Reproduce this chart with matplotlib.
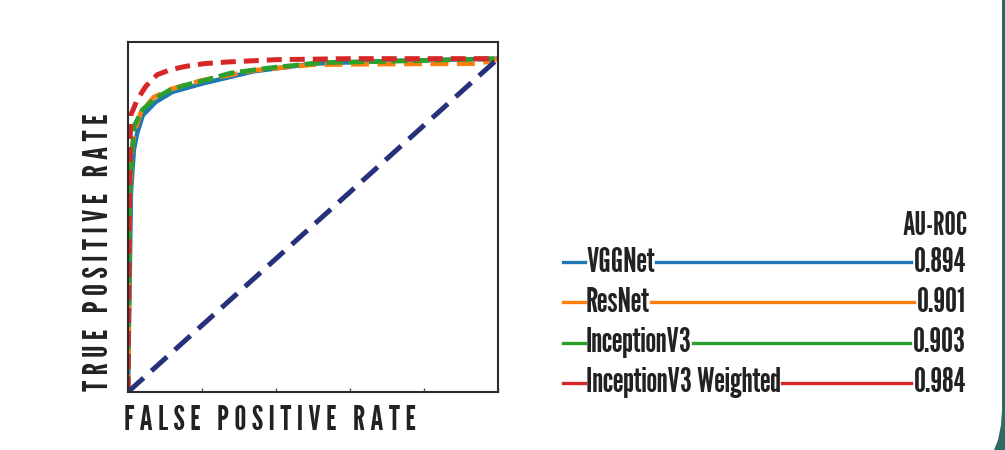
import matplotlib
matplotlib.use("Agg")
import matplotlib.pyplot as plt
from matplotlib import font_manager
from matplotlib.patches import Polygon

# ROC curves read for each model (false positive rate, true positive rate)
vgg_fpr = [0, 0.008, 0.016, 0.025, 0.04, 0.075, 0.12, 0.2, 0.34, 0.5, 0.7, 1.0]
vgg_tpr = [0, 0.60, 0.727, 0.777, 0.83, 0.87, 0.90, 0.925, 0.962, 0.985, 0.993, 1.0]

resnet_fpr = [0, 0.005, 0.012, 0.02, 0.035, 0.07, 0.12, 0.2, 0.34, 0.5, 0.7, 0.95, 1.0]
resnet_tpr = [0, 0.60, 0.74, 0.79, 0.84, 0.885, 0.91, 0.935, 0.965, 0.982, 0.984, 0.985, 1.0]

incep_fpr = [0, 0.005, 0.016, 0.039, 0.075, 0.115, 0.16, 0.214, 0.278, 0.38, 0.52, 0.7, 1.0]
incep_tpr = [0, 0.60, 0.797, 0.847, 0.882, 0.907, 0.922, 0.937, 0.957, 0.972, 0.988, 0.992, 1.0]

weighted_fpr = [0, 0.004, 0.007, 0.012, 0.025, 0.048, 0.079, 0.115, 0.156, 0.205, 0.268, 0.4, 0.6, 1.0]
weighted_tpr = [0, 0.60, 0.83, 0.842, 0.877, 0.917, 0.952, 0.967, 0.977, 0.985, 0.99, 0.997, 1.0, 1.0]

model_names = ["VGGNet", "ResNet", "InceptionV3", "InceptionV3 Weighted"]
auc_values = [0.894, 0.901, 0.903, 0.984]
colors = ["#1f77b4", "#ff7f0e", "#2ca02c", "#d62728"]

# condensed display face, first one that is installed
names = {f.name for f in font_manager.fontManager.ttflist}
family = next(n for n in ["League Gothic", "Oswald", "Antonio", "Fjalla One",
                          "Barlow Condensed", "DejaVu Sans"] if n in names)
FONT = dict(family=[family, "DejaVu Sans"])
INK = "#222222"

fig = plt.figure(figsize=(10.05, 4.5), dpi=100)

# overlay in pixel units for the legend block and the frame edge
ov = fig.add_axes([0, 0, 1, 1])
ov.set_xlim(0, 1005)
ov.set_ylim(450, 0)
ov.axis("off")

ax = fig.add_axes([128 / 1005, 58 / 450, 370 / 1005, 350 / 450])

ax.plot(vgg_fpr, vgg_tpr, color=colors[0], lw=3.2, solid_capstyle="round")
ax.plot(resnet_fpr, resnet_tpr, color=colors[1], lw=3.4, dashes=(3.8, 1.8))
ax.plot(incep_fpr, incep_tpr, color=colors[2], lw=3.4, dashes=(3.4, 1.2))
ax.plot(weighted_fpr, weighted_tpr, color=colors[3], lw=3.6, dashes=(3.0, 1.6))
ax.plot([0, 1], [0, 1], color="#27307a", lw=3.6, dashes=(4.2, 2.1))

ax.set_xlim(0, 1)
ax.set_ylim(0, 1.05)
ax.set_xticks([0, 0.2, 0.4, 0.6, 0.8, 1.0])
ax.set_yticks([])
ax.tick_params(axis="x", direction="in", length=3, width=1, color="#555555", labelbottom=False)
for s in ax.spines.values():
    s.set_linewidth(1.5)
    s.set_color("#2b2b2b")

ov.text(124, 420, "F A L S E   P O S I T I V E   R A T E", fontsize=24.5,
        color=INK, ha="left", va="center", **FONT)
ov.text(99, 252, "T R U E   P O S I T I V E   R A T E", fontsize=24.5,
        color=INK, ha="center", va="center", rotation=90, **FONT)

# legend block: short lead line, name, long line to the AU-ROC value
ov.text(968, 226, "AU-ROC", fontsize=23, color=INK, ha="right", va="center", **FONT)
fig.canvas.draw()
renderer = fig.canvas.get_renderer()
inv = ov.transData.inverted()
row_y = [262, 302, 343, 383]
for name, auc, c, y in zip(model_names, auc_values, colors, row_y):
    ov.plot([563, 585], [y, y], color=c, lw=2.4)
    t = ov.text(586, y, name, fontsize=24.5, color=INK, ha="left", va="center", **FONT)
    v = ov.text(966, y, f"{auc:.3f}", fontsize=24.5, color=INK, ha="right", va="center", **FONT)
    x_end = inv.transform(t.get_window_extent(renderer).get_points())[1][0]
    x_val = inv.transform(v.get_window_extent(renderer).get_points())[0][0]
    ov.plot([x_end + 1, x_val - 3], [y, y], color=c, lw=2.4)

# dark rounded frame edge on the right
edge = Polygon([[1002, 0], [1005, 0], [1005, 450], [994, 450], [998, 440], [1001, 425], [1002, 410]],
               closed=True, facecolor="#2f6a64", edgecolor="none")
ov.add_patch(edge)

fig.savefig("out.png", dpi=100)
